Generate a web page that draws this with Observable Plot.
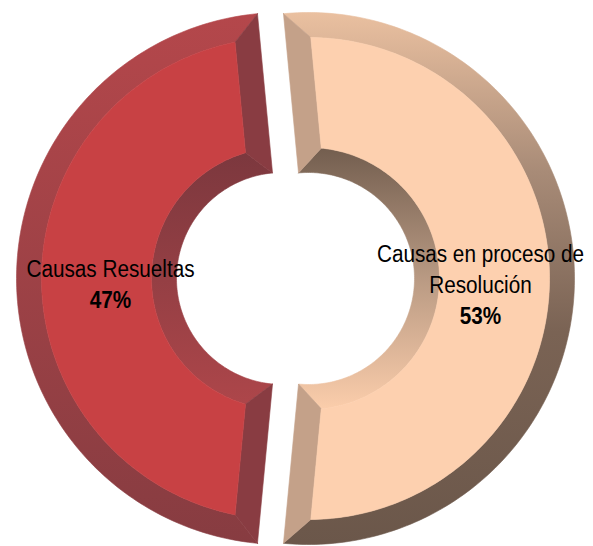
<!DOCTYPE html>
<html>
<head>
<meta charset="utf-8">
<script src="https://cdn.jsdelivr.net/npm/d3@7"></script>
<script src="https://cdn.jsdelivr.net/npm/@observablehq/plot@0.6"></script>
<style>
  html, body { margin: 0; padding: 0; background: #fff; }
  #chart svg { display: block; }
</style>
</head>
<body>
<div id="chart"></div>
<script>
// ---- data ----
const categories = ["Causas en proceso de\nResolución", "Causas Resueltas"];
const values = [53, 47];
const percentLabels = ["53%", "47%"];

// ---- styles ----
const faceColors = ["#FDD0AF", "#C84144"];
const sideColors = ["#C4A189", "#893C42"];
const outerGrad = ["url(#peachOuter)", "url(#redOuter)"];
const innerGrad = ["url(#peachInner)", "url(#redInner)"];

// ---- layout ----
const W = 593, H = 546;
const cx = 295, cy = 278, Ro = 266, Ri = 106, bev = 25, explode = 13, rLabel = 172, lineH = 31;
const fontSize = 23, condense = 0.9;

const total = d3.sum(values);
let start = 90 - (values[0] / total) * 360 / 2;
const slices = values.map((v, i) => {
  const a0 = start, a1 = start + (v / total) * 360;
  start = a1;
  return {i, a0, a1, mid: (a0 + a1) / 2};
});

const rad = d => d * Math.PI / 180;
function pt(s, r, deg) {
  const ox = explode * Math.sin(rad(s.mid)), oy = -explode * Math.cos(rad(s.mid));
  return [cx + ox + r * Math.sin(rad(deg)), cy + oy - r * Math.cos(rad(deg))];
}
function arc(s, r, d0, d1) {
  const n = Math.max(2, Math.ceil(Math.abs(d1 - d0) / 1));
  return d3.range(n + 1).map(k => pt(s, r, d0 + (d1 - d0) * k / n));
}

const polys = [];
slices.forEach(s => {
  const dO = Math.asin(bev / (Ro - bev)) * 180 / Math.PI;
  const dI = Math.asin(bev / (Ri + bev)) * 180 / Math.PI;
  const {a0, a1, i} = s;
  polys.push({fill: outerGrad[i], pts: [...arc(s, Ro, a0, a1), ...arc(s, Ro - bev, a1 - dO, a0 + dO)]});
  polys.push({fill: innerGrad[i], pts: [...arc(s, Ri, a0, a1), ...arc(s, Ri + bev, a1 - dI, a0 + dI)]});
  polys.push({fill: sideColors[i], pts: [pt(s, Ro, a0), pt(s, Ro - bev, a0 + dO), pt(s, Ri + bev, a0 + dI), pt(s, Ri, a0)]});
  polys.push({fill: sideColors[i], pts: [pt(s, Ro, a1), pt(s, Ro - bev, a1 - dO), pt(s, Ri + bev, a1 - dI), pt(s, Ri, a1)]});
  polys.push({fill: faceColors[i], pts: [...arc(s, Ro - bev, a0 + dO, a1 - dO), ...arc(s, Ri + bev, a1 - dI, a0 + dI)]});
});

const polyMarks = polys.map(p => {
  const rows = [...p.pts, p.pts[0]].map(([x, y]) => ({x, y}));
  return Plot.line(rows, {x: "x", y: "y", fill: p.fill, stroke: p.fill, strokeWidth: 0.6, curve: "linear"});
});

// labels
const labelRows = [];
slices.forEach(s => {
  const lines = categories[s.i].split("\n").map(t => ({t, bold: false}));
  lines.push({t: percentLabels[s.i], bold: true});
  const n = lines.length;
  const lx = cx + (explode + rLabel) * Math.sin(rad(s.mid));
  const ly = cy + 7 - (explode + rLabel) * Math.cos(rad(s.mid));
  lines.forEach((l, k) => labelRows.push({x: lx, y: ly + (k - (n - 1) / 2) * lineH, text: l.t, bold: l.bold}));
});

const chart = Plot.plot({
  width: W, height: H, margin: 0,
  x: {domain: [0, W], range: [0, W], axis: null},
  y: {domain: [0, H], range: [0, H], axis: null},
  style: {fontFamily: "'Liberation Sans', Arial, sans-serif", background: "#fff"},
  marks: [
    ...polyMarks,
    Plot.text(labelRows.filter(d => !d.bold), {x: "x", y: "y", text: "text", fontSize, fill: "#000", lineAnchor: "middle", textAnchor: "middle", className: "lbl"}),
    Plot.text(labelRows.filter(d => d.bold), {x: "x", y: "y", text: "text", fontSize, fontWeight: "bold", fill: "#000", lineAnchor: "middle", textAnchor: "middle", className: "lbl"})
  ]
});

const svg = d3.select(chart);
const defs = svg.insert("defs", ":first-child");
function grad(id, stops) {
  const g = defs.append("linearGradient").attr("id", id).attr("x1", 0).attr("y1", 0).attr("x2", 0).attr("y2", 1);
  stops.forEach(([o, c]) => g.append("stop").attr("offset", o).attr("stop-color", c));
}
grad("peachOuter", [[0, "#EAC0A0"], [0.3, "#A88B77"], [0.6, "#7A6354"], [1, "#6B574A"]]);
grad("peachInner", [[0, "#735E4F"], [0.5, "#B99A83"], [1, "#FBCDAB"]]);
grad("redOuter", [[0, "#B4474B"], [1, "#873C41"]]);
grad("redInner", [[0, "#7C383E"], [1, "#AD464A"]]);

document.getElementById("chart").appendChild(chart);

// slightly condensed label type, as in the original
svg.selectAll("g.lbl text").each(function () {
  const len = this.getComputedTextLength();
  d3.select(this).attr("textLength", len * condense).attr("lengthAdjust", "spacingAndGlyphs");
});
</script>
</body>
</html>
